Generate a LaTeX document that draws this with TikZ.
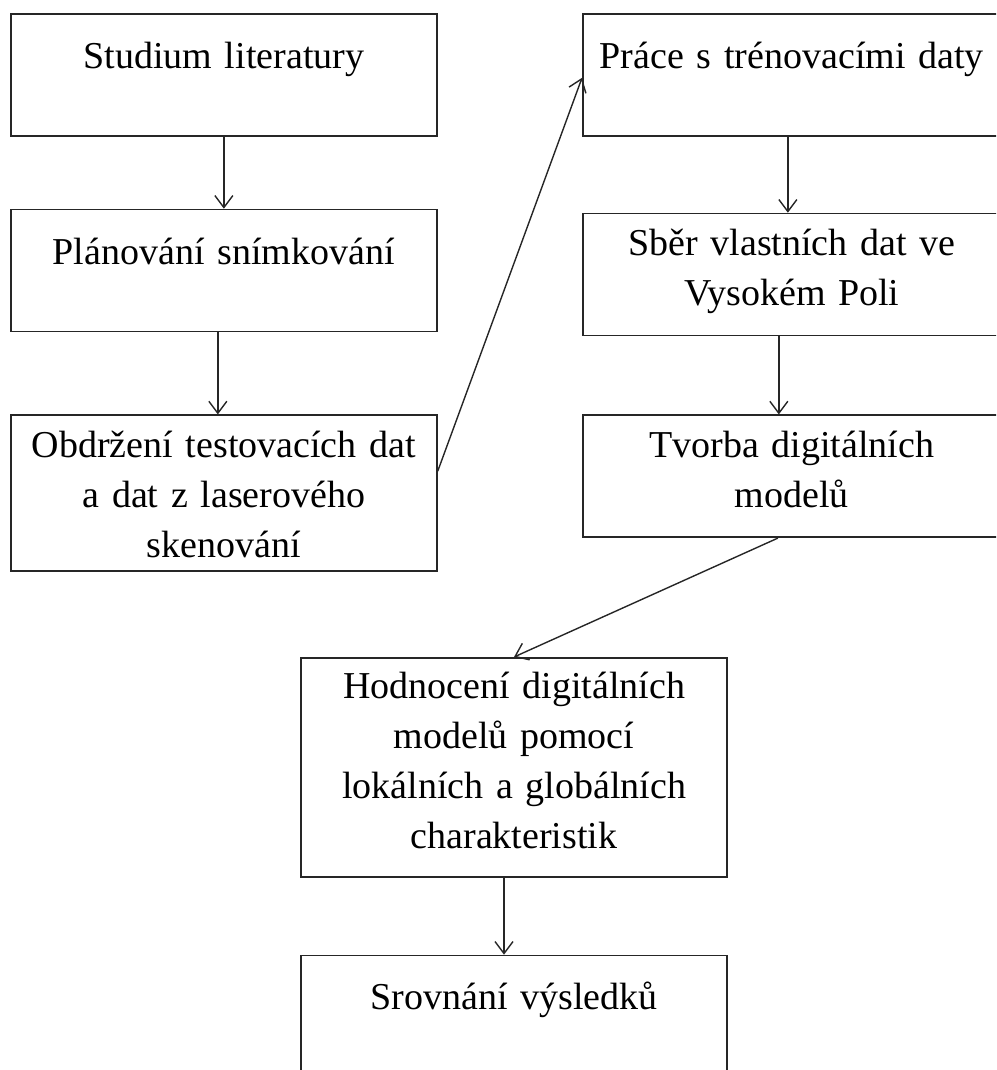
\documentclass[tikz,border=0pt]{standalone}
\usepackage{fontspec}
\setmainfont{Liberation Serif}
\usetikzlibrary{positioning,arrows.meta}

\begin{document}
\begin{tikzpicture}[
    x=1pt, y=-1pt,   % coordonnées en pixels, y vers le bas
    % Réglages des boîtes et des flèches
    stepbox/.style={draw=black!85, line width=1.7pt, inner sep=0pt, align=center,
        font=\fontsize{38}{50}\selectfont},
    leftcol/.style={stepbox, text width=426pt},
    rightcol/.style={stepbox, text width=418pt},
    steparrow/.style={draw=black!85, line width=1.4pt, -{Straight Barb[length=12pt, width=18pt]}}
]
\useasboundingbox (0,0) rectangle (996,1070);
\clip (0,0) rectangle (996,1070);
% Colonne gauche
\node[leftcol, text height=55pt, text depth=67pt, anchor=north west] (lit) at (10,13) {Studium literatury};
\node[leftcol, text height=55pt, text depth=67pt, below=72pt of lit] (plan) {Plánování snímkování};
\node[leftcol, text height=42pt, text depth=114pt, below=82pt of plan] (obdr)
    {Obdržení testovacích dat\\ a dat z laserového\\ skenování};
% Colonne droite
\node[rightcol, text height=55pt, text depth=67pt, anchor=north west] (prace) at (582,13) {Práce s trénovacími daty};
\node[rightcol, text height=42pt, text depth=80pt, below=76pt of prace] (sber)
    {Sběr vlastních dat ve\\ Vysokém Poli};
\node[rightcol, text height=42pt, text depth=80pt, below=78pt of sber] (tvorba)
    {Tvorba digitálních\\ modelů};
% Bas
\node[leftcol, text height=41pt, text depth=178pt, anchor=north] (hodn) at (514,657)
    {Hodnocení digitálních\\ modelů pomocí\\ lokálních a globálních\\ charakteristik};
\node[leftcol, text height=54pt, text depth=140pt, below=77pt of hodn] (srov) {Srovnání výsledků};
% Flèches
\draw[steparrow] (lit.south) -- (plan.north);
\draw[steparrow] ([xshift=-6pt]plan.south) -- ([xshift=-6pt]obdr.north);
\draw[steparrow] ([yshift=22pt]obdr.east) -- ([yshift=-3pt]prace.west);
\draw[steparrow] ([xshift=-4pt]prace.south) -- ([xshift=-4pt]sber.north);
\draw[steparrow] ([xshift=-13pt]sber.south) -- ([xshift=-13pt]tvorba.north);
\draw[steparrow] ([xshift=-14pt]tvorba.south) -- (hodn.north);
\draw[steparrow] ([xshift=-10pt]hodn.south) -- ([xshift=-10pt]srov.north);
\end{tikzpicture}
\end{document}
